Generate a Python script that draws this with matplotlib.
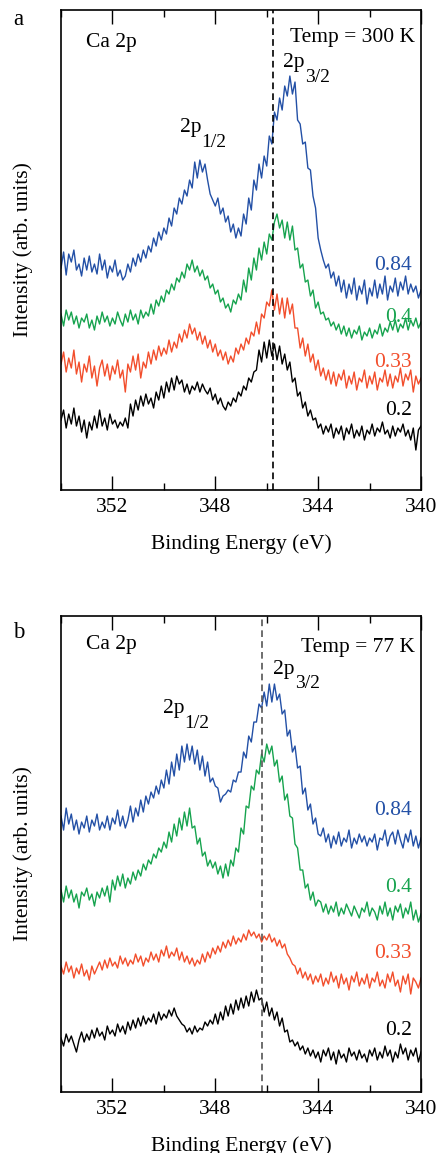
import numpy as np
import matplotlib
matplotlib.use("Agg")
import matplotlib.pyplot as plt
from matplotlib.ticker import MultipleLocator

plt.rcParams['font.family'] = ['Liberation Serif', 'DejaVu Serif']

# binding energy grid (eV), 354 -> 340 in 0.1 eV steps
energy = np.linspace(354.0, 340.0, 141)

# ---- panel a : 300 K (arb. intensity, offset stacked) ----
a_084 = [222, 238, 215, 236, 228, 240, 220, 226, 214, 232,
         220, 234, 218, 226, 216, 236, 220, 230, 212, 224,
         218, 230, 214, 220, 210, 214, 226, 218, 232, 224,
         236, 228, 240, 232, 244, 238, 252, 244, 258, 250,
         262, 256, 272, 264, 282, 276, 292, 286, 300, 294,
         310, 302, 328, 312, 330, 318, 326, 310, 296, 290,
         284, 292, 276, 282, 268, 274, 258, 266, 252, 262,
         254, 276, 266, 292, 280, 310, 300, 326, 312, 334,
         324, 354, 346, 378, 370, 392, 380, 404, 394, 414,
         396, 408, 370, 366, 346, 348, 322, 320, 294, 282,
         252, 240, 230, 222, 226, 212, 218, 204, 214, 198,
         210, 192, 206, 196, 212, 190, 204, 196, 210, 186,
         202, 194, 210, 192, 206, 196, 214, 190, 204, 198,
         212, 194, 208, 200, 214, 196, 206, 198, 204, 192, 200]
a_04 = [176, 164, 180, 170, 178, 166, 174, 162, 172, 168,
        176, 162, 170, 160, 174, 166, 178, 168, 174, 164,
        172, 166, 178, 170, 164, 176, 168, 180, 170, 176,
        166, 180, 172, 178, 174, 186, 176, 190, 184, 194,
        188, 200, 196, 206, 200, 212, 208, 218, 212, 226,
        220, 230, 218, 224, 214, 220, 210, 214, 202, 206,
        196, 200, 188, 192, 182, 186, 178, 190, 186, 196,
        190, 210, 198, 222, 210, 232, 220, 242, 230, 248,
        236, 256, 250, 268, 276, 262, 270, 252, 268, 250,
        264, 240, 242, 222, 226, 208, 210, 194, 200, 182,
        188, 176, 178, 170, 172, 164, 168, 160, 166, 156,
        164, 154, 162, 152, 160, 156, 164, 150, 158, 154,
        162, 152, 160, 156, 166, 154, 162, 158, 168, 160,
        170, 158, 166, 162, 172, 160, 170, 164, 172, 162, 168]
a_033 = [126, 138, 118, 132, 122, 140, 116, 128, 108, 126,
         118, 134, 112, 124, 104, 122, 130, 114, 126, 110,
         124, 116, 130, 112, 120, 98, 126, 118, 134, 120,
         136, 112, 128, 122, 138, 126, 140, 130, 144, 134,
         142, 136, 150, 138, 148, 142, 156, 148, 160, 152,
         166, 156, 162, 150, 158, 146, 154, 142, 150, 138,
         146, 134, 140, 130, 138, 126, 134, 128, 142, 136,
         146, 140, 152, 146, 158, 154, 168, 156, 176, 172,
         188, 184, 200, 180, 196, 176, 192, 172, 192, 176,
         186, 162, 162, 142, 152, 134, 146, 128, 136, 120,
         130, 114, 122, 110, 120, 106, 118, 104, 116, 110,
         120, 102, 114, 106, 118, 100, 112, 108, 120, 102,
         114, 106, 118, 100, 112, 108, 120, 104, 116, 102,
         114, 108, 122, 104, 116, 110, 120, 98, 114, 106, 112]
a_02 = [70, 80, 62, 76, 66, 82, 64, 74, 58, 70,
        52, 68, 60, 74, 62, 80, 64, 72, 60, 76,
        66, 70, 62, 68, 64, 72, 62, 86, 74, 90,
        80, 94, 84, 96, 86, 92, 82, 98, 90, 104,
        92, 108, 98, 112, 100, 114, 106, 110, 98, 106,
        96, 104, 100, 108, 98, 106, 100, 96, 102, 90,
        96, 86, 92, 84, 80, 88, 84, 92, 88, 98,
        94, 104, 100, 112, 108, 118, 120, 140, 128, 148,
        132, 150, 134, 146, 130, 144, 126, 136, 120, 128,
        108, 112, 94, 98, 82, 88, 74, 80, 70, 72,
        62, 66, 56, 64, 58, 66, 52, 62, 56, 64,
        50, 62, 56, 66, 52, 60, 54, 64, 50, 60,
        56, 66, 54, 62, 58, 68, 56, 60, 52, 64,
        54, 62, 58, 66, 54, 60, 50, 62, 40, 60, 64]

# ---- panel b : 77 K ----
b_084 = [276, 262, 284, 268, 278, 262, 272, 258, 270, 264,
         276, 260, 272, 266, 278, 262, 270, 264, 276, 262,
         274, 268, 282, 266, 276, 264, 272, 286, 270, 284,
         276, 292, 280, 296, 288, 300, 294, 306, 298, 312,
         304, 322, 308, 330, 316, 338, 322, 346, 330, 348,
         332, 346, 328, 342, 322, 336, 316, 330, 310, 314,
         306, 304, 290, 296, 298, 302, 300, 312, 310, 320,
         320, 340, 334, 356, 350, 370, 370, 388, 384, 400,
         386, 408, 390, 408, 392, 398, 378, 382, 356, 362,
         340, 346, 324, 326, 298, 304, 282, 288, 268, 274,
         258, 256, 264, 250, 258, 244, 256, 248, 260, 246,
         254, 250, 262, 244, 254, 248, 258, 250, 256, 246,
         254, 250, 258, 242, 254, 252, 262, 246, 256, 260,
         248, 262, 252, 244, 258, 250, 262, 246, 256, 244, 254]
b_04 = [202, 190, 206, 194, 202, 190, 198, 184, 200, 196,
        204, 192, 198, 186, 200, 194, 204, 196, 206, 190,
        212, 202, 216, 206, 218, 204, 214, 208, 220, 212,
        222, 216, 228, 222, 232, 228, 238, 234, 244, 240,
        250, 244, 260, 250, 268, 256, 274, 262, 280, 266,
        284, 264, 266, 248, 254, 236, 240, 226, 232, 224,
        230, 218, 226, 214, 228, 216, 232, 226, 244, 240,
        264, 258, 286, 284, 306, 302, 322, 318, 338, 330,
        348, 338, 346, 326, 332, 310, 316, 292, 298, 276,
        274, 248, 244, 222, 222, 204, 208, 192, 200, 186,
        192, 190, 180, 188, 178, 186, 180, 190, 176, 184,
        178, 188, 182, 176, 186, 180, 174, 184, 180, 190,
        176, 184, 180, 172, 186, 178, 190, 176, 184, 172,
        186, 180, 188, 174, 184, 178, 190, 172, 182, 170, 178]
b_033 = [126, 118, 130, 120, 126, 114, 124, 118, 128, 116,
         122, 112, 126, 118, 124, 130, 122, 132, 124, 134,
         126, 130, 124, 136, 128, 134, 126, 132, 128, 138,
         130, 136, 126, 134, 130, 140, 132, 138, 130, 142,
         136, 146, 134, 140, 136, 144, 132, 140, 130, 136,
         128, 134, 126, 132, 128, 138, 130, 140, 134, 144,
         138, 146, 140, 150, 144, 152, 146, 156, 148, 154,
         150, 158, 152, 162, 156, 160, 154, 158, 150, 156,
         152, 158, 150, 154, 146, 152, 144, 148, 138, 134,
         128, 126, 118, 124, 114, 120, 112, 118, 108, 116,
         110, 118, 106, 114, 108, 120, 110, 116, 104, 118,
         108, 114, 102, 116, 110, 120, 106, 114, 108, 118,
         104, 114, 110, 120, 106, 112, 104, 118, 110, 120,
         106, 112, 100, 116, 108, 118, 98, 114, 110, 104, 114]
b_02 = [54, 46, 58, 50, 56, 48, 40, 52, 60, 50,
        58, 52, 62, 54, 64, 56, 60, 52, 66, 58,
        62, 56, 68, 60, 66, 58, 70, 62, 72, 64,
        74, 66, 76, 68, 74, 70, 78, 68, 80, 72,
        78, 74, 82, 76, 84, 76, 72, 68, 66, 60,
        64, 58, 66, 60, 64, 62, 70, 66, 72, 68,
        78, 68, 80, 72, 86, 76, 88, 78, 92, 82,
        94, 84, 96, 86, 100, 90, 102, 92, 94, 80,
        90, 76, 84, 72, 80, 66, 74, 60, 62, 50,
        52, 46, 50, 42, 46, 38, 44, 36, 42, 34,
        40, 30, 42, 36, 44, 32, 40, 28, 42, 34,
        38, 30, 44, 36, 40, 32, 42, 34, 38, 30,
        42, 36, 44, 32, 40, 34, 46, 36, 42, 30,
        40, 34, 48, 38, 44, 32, 42, 36, 44, 30, 40]

fractions = ['0.84', '0.4', '0.33', '0.2']
colors = ['#2350a6', '#16a34e', '#f24e2c', 'black']

panels = [
    dict(letter='a', letter_y=0.983, temp='Temp = 300 K',
         series=[a_084, a_04, a_033, a_02],
         peak=345.74, dash_color='black', ylim=480,
         label_y=[225, 173, 128, 80],
         pos=[0.139, 0.575, 0.820, 0.4163],
         ca_y=0.933, temp_y=0.942,
         p32=(0.617, 0.89), p12=(0.330, 0.755)),
    dict(letter='b', letter_y=0.451, temp='Temp = 77 K',
         series=[b_084, b_04, b_033, b_02],
         peak=346.2, dash_color='#555555', ylim=476,
         label_y=[282, 205, 139, 62],
         pos=[0.139, 0.0529, 0.820, 0.4128],
         ca_y=0.941, temp_y=0.933,
         p32=(0.589, 0.888), p12=(0.283, 0.805)),
]

fs = 15.5
fig = plt.figure(figsize=(4.39, 11.53), dpi=100, facecolor='white')


def orbital(ax, xy, sub):
    # "2p" with a large, low subscript like the original
    ax.text(xy[0], xy[1], '2p', transform=ax.transAxes, fontsize=fs,
            ha='left', va='center')
    ax.annotate(sub, xy=xy, xycoords='axes fraction', xytext=(15.5, -10.5),
                textcoords='offset points', fontsize=fs - 1.5,
                ha='left', va='center')


for p in panels:
    ax = fig.add_axes(p['pos'])
    for vals, c in zip(p['series'], colors):
        ax.plot(energy, vals, color=c, lw=1.0)
    ax.axvline(p['peak'], color=p['dash_color'], ls=(0, (4, 2.5)), lw=1.2)

    ax.set_xlim(354, 340)
    ax.set_ylim(0, p['ylim'])
    ax.set_yticks([])
    ax.xaxis.set_major_locator(MultipleLocator(4))
    ax.xaxis.set_minor_locator(MultipleLocator(2))
    ax.tick_params(axis='x', which='both', direction='in', top=True,
                   bottom=True, labelsize=fs, pad=6)
    ax.tick_params(axis='x', which='major', length=10, width=1)
    ax.tick_params(axis='x', which='minor', length=5, width=1)
    for s in ax.spines.values():
        s.set_linewidth(1.2)

    ax.set_xlabel('Binding Energy (eV)', fontsize=fs, labelpad=12)
    ax.set_ylabel('Intensity (arb. units)', fontsize=fs, labelpad=20)

    ax.text(0.069, p['ca_y'], 'Ca 2p', transform=ax.transAxes, fontsize=fs,
            ha='left', va='center')
    ax.text(0.983, p['temp_y'], p['temp'], transform=ax.transAxes,
            fontsize=fs, ha='right', va='center')
    orbital(ax, p['p32'], '3/2')
    orbital(ax, p['p12'], '1/2')

    for lab, ly, c in zip(fractions, p['label_y'], colors):
        ax.text(340.35, ly, lab, color=c, fontsize=fs, ha='right', va='center')

    fig.text(0.042, p['letter_y'], p['letter'], fontsize=fs + 1,
             ha='center', va='center')

fig.savefig('out.png', dpi=100, facecolor='white')
